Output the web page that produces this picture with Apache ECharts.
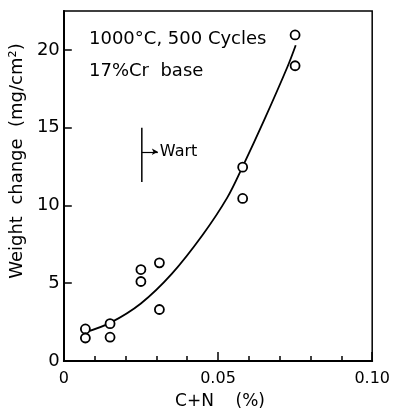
<!DOCTYPE html>
<html><head><meta charset="utf-8">
<script src="https://cdn.jsdelivr.net/npm/echarts@6/dist/echarts.min.js"></script>
<style>html,body{margin:0;padding:0;background:#fff}#c{width:393px;height:415px}</style>
</head><body><div id="c"></div>
<script>
// Measured points (C+N %, weight change mg/cm2)
const pointX = [0.007, 0.007, 0.015, 0.015, 0.025, 0.025, 0.031, 0.031, 0.058, 0.058, 0.075, 0.075];
const pointY = [2.06, 1.48, 2.40, 1.53, 5.88, 5.11, 6.31, 3.31, 12.46, 10.45, 20.96, 18.98];
// Fitted curve
const curveX = [0.007, 0.015, 0.025, 0.035, 0.045, 0.053, 0.058, 0.065, 0.0725, 0.0752];
const curveY = [1.85, 2.45, 3.7, 5.6, 8.1, 10.5, 12.5, 15.5, 18.9, 20.3];
// Wart range marker
const wartX = [0.0253, 0.0253];
const wartY = [11.5, 15.0];
const wartArrow = [[0.0253, 13.45], [0.0305, 13.45]];
const xTicks = [0, 0.05, 0.10];
const yTicks = [0, 5, 10, 15, 20];
const noteLines = ['1000\u00B0C, 500 Cycles', '17%Cr  base'];

const FONT = 'DejaVu Sans';
const chart = echarts.init(document.getElementById('c'), null, {renderer: 'canvas'});
chart.setOption({
  animation: false,
  backgroundColor: '#fff',
  grid: {left: 63, right: 9, top: 11, bottom: 51, show: true, borderColor: '#000', borderWidth: 1.5, containLabel: false},
  xAxis: {
    type: 'value', min: 0, max: 0.1, interval: 0.05,
    name: 'C+N    (%)', nameLocation: 'middle', nameGap: 32,
    nameTextStyle: {color: '#000', fontFamily: FONT, fontSize: 17, padding: [0, 0, 0, 4]},
    axisLine: {show: true, onZero: false, lineStyle: {color: '#000', width: 2}},
    axisTick: {show: true, inside: true, length: 9, lineStyle: {color: '#000', width: 1.5}},
    minorTick: {show: true, splitNumber: 5, length: 5, lineStyle: {color: '#000', width: 1.5}},
    splitLine: {show: false}, minorSplitLine: {show: false},
    axisLabel: {color: '#000', fontFamily: FONT, fontSize: 16, margin: 10,
      formatter: v => { const t = xTicks.find(k => Math.abs(k - v) < 1e-9); return t === 0 ? '0' : (t !== undefined ? t.toFixed(2) : ''); }}
  },
  yAxis: {
    type: 'value', min: 0, max: 22.5, interval: 5,
    name: 'Weight  change  (mg/cm\u00B2)', nameLocation: 'middle', nameGap: 27, nameRotate: 90,
    nameTextStyle: {color: '#000', fontFamily: FONT, fontSize: 18, padding: [0, 0, 0, 50]},
    axisLine: {show: true, onZero: false, lineStyle: {color: '#000', width: 2}},
    axisTick: {show: true, inside: true, length: 8, lineStyle: {color: '#000', width: 1.5}},
    splitLine: {show: false},
    axisLabel: {color: '#000', fontFamily: FONT, fontSize: 18, margin: 4, showMaxLabel: false,
      formatter: v => yTicks.includes(v) ? String(v) : ''}
  },
  series: [
    {
      type: 'line', smooth: 0.35, symbol: 'none', silent: true,
      data: curveX.map((x, i) => [x, curveY[i]]),
      lineStyle: {color: '#000', width: 1.8}, z: 2
    },
    {
      type: 'scatter', symbol: 'circle', symbolSize: 9,
      data: pointX.map((x, i) => [x, pointY[i]]),
      itemStyle: {color: '#fff', borderColor: '#000', borderWidth: 1.8, opacity: 1}, z: 3
    },
    {
      type: 'line', symbol: 'none', silent: true,
      data: wartX.map((x, i) => [x, wartY[i]]),
      lineStyle: {color: '#000', width: 1.5},
      markLine: {
        silent: true, symbol: ['none', 'arrow'], symbolSize: [5, 6], animation: false,
        lineStyle: {color: '#000', width: 1.2, type: 'solid'},
        label: {show: true, position: 'end', formatter: 'Wart', color: '#000', fontFamily: FONT, fontSize: 16, distance: 2},
        data: [[{coord: wartArrow[0]}, {coord: wartArrow[1]}]]
      }
    }
  ],
  graphic: [
    {type: 'text', left: 89, top: 30, style: {text: noteLines[0], fill: '#000', font: '18px "' + FONT + '"'}},
    {type: 'text', left: 89, top: 62, style: {text: noteLines[1], fill: '#000', font: '18px "' + FONT + '"'}}
  ]
});
</script></body></html>
